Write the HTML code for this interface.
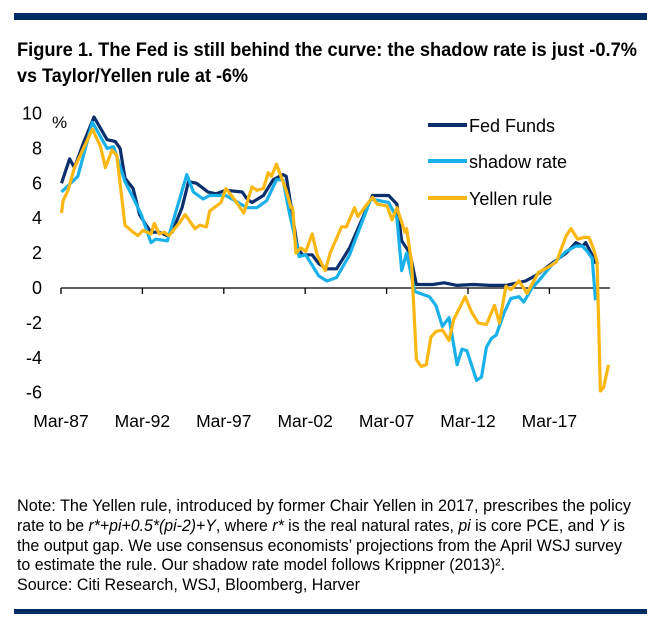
<!DOCTYPE html>
<html><head><meta charset="utf-8"><style>
html,body{margin:0;padding:0;background:#fff;}
svg{display:block;font-family:"Liberation Sans",Arial,sans-serif;}
</style></head><body>
<svg id="chart" width="647" height="621" viewBox="0 0 647 621">
<rect x="14" y="13" width="633" height="7" fill="#002b63"/>
<text x="17" y="56" font-size="19" font-weight="bold" textLength="620" lengthAdjust="spacingAndGlyphs">Figure 1. The Fed is still behind the curve: the shadow rate is just -0.7%</text>
<text x="17" y="82" font-size="19" font-weight="bold" textLength="231" lengthAdjust="spacingAndGlyphs">vs Taylor/Yellen rule at -6%</text>
<g id="axes"></g>
<g id="series"></g>
<g>
<line x1="428" y1="125" x2="467" y2="125" stroke="#0b2f6b" stroke-width="4"/>
<text x="469" y="132" font-size="18">Fed Funds</text>
<line x1="428" y1="161" x2="467" y2="161" stroke="#1ab1ea" stroke-width="4"/>
<text x="469" y="168" font-size="18">shadow rate</text>
<line x1="428" y1="198" x2="467" y2="198" stroke="#fbb712" stroke-width="4"/>
<text x="469" y="205" font-size="18">Yellen rule</text>
</g>
<g font-size="16.5">
<text x="17" y="511" textLength="614" lengthAdjust="spacingAndGlyphs">Note: The Yellen rule, introduced by former Chair Yellen in 2017, prescribes the policy</text>
<text x="17" y="531" textLength="608" lengthAdjust="spacingAndGlyphs">rate to be <tspan font-style="italic">r*+pi+0.5*(pi-2)+Y</tspan>, where <tspan font-style="italic">r*</tspan> is the real natural rates, <tspan font-style="italic">pi</tspan> is core PCE, and <tspan font-style="italic">Y</tspan> is</text>
<text x="17" y="551" textLength="605" lengthAdjust="spacingAndGlyphs">the output gap. We use consensus economists’ projections from the April WSJ survey</text>
<text x="17" y="570" textLength="488" lengthAdjust="spacingAndGlyphs">to estimate the rule. Our shadow rate model follows Krippner (2013)².</text>
<text x="17" y="590" textLength="343" lengthAdjust="spacingAndGlyphs">Source: Citi Research, WSJ, Bloomberg, Harver</text>
</g>
<rect x="14" y="609" width="633" height="5" fill="#002b63"/>
</svg>
<script>
const yTicks=[10,8,6,4,2,0,-2,-4,-6];
const xTickYears=[1987.17,1992.17,1997.17,2002.17,2007.17,2012.17,2017.17];
const xTickLabels=["Mar-87","Mar-92","Mar-97","Mar-02","Mar-07","Mar-12","Mar-17"];
const fedFunds=[[1987.2,6.0],[1987.7,7.4],[1988.0,6.9],[1988.5,8.2],[1989.2,9.8],[1990.0,8.5],[1990.5,8.4],[1990.8,8.0],[1991.1,6.3],[1991.6,5.7],[1992.0,4.2],[1992.4,3.6],[1992.7,3.2],[1993.2,3.2],[1993.7,3.0],[1994.0,3.2],[1994.6,4.6],[1995.0,6.1],[1995.5,6.0],[1996.2,5.5],[1996.7,5.4],[1997.3,5.6],[1998.3,5.5],[1998.6,5.1],[1998.9,4.9],[1999.6,5.3],[2000.2,6.2],[2000.8,6.5],[2001.0,6.4],[2001.3,4.7],[2001.7,2.3],[2002.0,1.9],[2002.6,1.9],[2003.0,1.4],[2003.5,1.1],[2004.1,1.1],[2004.9,2.3],[2006.3,5.3],[2007.3,5.3],[2007.8,4.8],[2008.1,2.7],[2008.6,2.0],[2009.0,0.2],[2010.0,0.2],[2010.7,0.3],[2011.5,0.15],[2012.5,0.2],[2013.5,0.15],[2014.5,0.15],[2015.7,0.4],[2016.3,0.7],[2017.3,1.4],[2018.2,2.0],[2018.8,2.6],[2019.2,2.4],[2019.4,2.6],[2019.9,1.7],[2020.0,1.4]];
const shadowRate=[[1987.2,5.5],[1988.2,6.4],[1989.1,9.5],[1990.0,8.0],[1990.4,8.1],[1991.1,6.1],[1991.7,5.0],[1992.1,4.2],[1992.7,2.6],[1993.0,2.8],[1993.7,2.7],[1994.9,6.5],[1995.3,5.5],[1995.9,5.1],[1996.3,5.3],[1997.3,5.3],[1998.6,4.6],[1999.2,4.6],[1999.8,5.0],[2000.4,6.2],[2000.8,6.2],[2001.2,4.3],[2001.8,1.8],[2002.2,1.9],[2003.0,0.7],[2003.5,0.4],[2004.1,0.6],[2004.9,1.9],[2006.2,5.1],[2007.3,4.9],[2007.8,4.0],[2008.1,1.0],[2008.4,2.0],[2008.9,-0.2],[2009.2,-0.3],[2009.8,-0.5],[2010.2,-1.0],[2010.6,-2.2],[2011.0,-1.7],[2011.5,-4.4],[2011.8,-3.5],[2012.1,-3.6],[2012.7,-5.3],[2013.0,-5.1],[2013.3,-3.4],[2013.6,-2.9],[2013.9,-2.7],[2014.4,-1.4],[2014.8,-0.6],[2015.3,-0.5],[2015.6,-0.8],[2016.1,0],[2016.5,0.4],[2017.3,1.3],[2018.2,2.1],[2018.8,2.4],[2019.2,2.4],[2019.5,2.1],[2019.8,1.7],[2020.0,-0.7]];
const yellenRule=[[1987.2,4.3],[1987.3,5.0],[1987.6,5.6],[1988.0,6.9],[1988.5,7.9],[1989.1,9.1],[1989.6,8.1],[1989.9,6.9],[1990.3,7.9],[1990.6,7.6],[1991.1,3.6],[1991.6,3.2],[1991.9,3.0],[1992.2,3.3],[1992.7,3.1],[1992.9,3.7],[1993.2,3.1],[1993.5,3.2],[1993.8,3.0],[1994.5,3.8],[1994.8,4.2],[1995.4,3.4],[1995.7,3.6],[1996.1,3.5],[1996.3,4.4],[1997.0,4.9],[1997.3,5.7],[1997.8,5.1],[1998.4,4.3],[1998.9,5.8],[1999.2,5.6],[1999.6,5.7],[1999.9,6.6],[2000.1,6.4],[2000.4,7.1],[2001.0,5.6],[2001.3,4.6],[2001.4,4.6],[2001.6,2.0],[2001.9,2.3],[2002.2,2.1],[2002.6,3.1],[2002.9,1.9],[2003.4,1.0],[2003.7,2.0],[2004.4,3.5],[2004.7,3.5],[2005.2,4.6],[2005.4,4.1],[2006.3,5.2],[2006.6,4.8],[2007.2,4.7],[2007.5,3.9],[2007.8,4.6],[2008.3,3.2],[2008.4,3.4],[2008.7,1.5],[2009.0,-4.1],[2009.3,-4.5],[2009.6,-4.4],[2009.9,-2.8],[2010.2,-2.5],[2010.6,-2.4],[2011.0,-3.0],[2011.3,-1.8],[2012.0,-0.5],[2012.4,-1.4],[2012.8,-2.0],[2013.3,-2.1],[2013.8,-1.0],[2014.1,-2.0],[2014.5,0.1],[2014.8,-0.1],[2015.3,0.4],[2015.8,-0.3],[2016.5,0.9],[2017.1,1.2],[2017.6,1.5],[2018.2,3.0],[2018.5,3.4],[2018.9,2.8],[2019.3,2.9],[2019.6,2.9],[2019.9,2.2],[2020.1,1.5],[2020.3,-5.9],[2020.5,-5.7],[2020.8,-4.4]];

const NS="http://www.w3.org/2000/svg";
function xs(yr){return 61+(yr-1987.17)*16.28;}
function ys(v){return 288-v*17.45;}
function mk(tag,attrs,parent){const e=document.createElementNS(NS,tag);for(const k in attrs)e.setAttribute(k,attrs[k]);parent.appendChild(e);return e;}
const axes=document.getElementById('axes');
const zl=mk('line',{x1:61,y1:ys(0),x2:610,y2:ys(0),stroke:'#000','stroke-width':1.3},axes);


yTicks.forEach(v=>{
  const t=mk('text',{x:42,y:ys(v)+6,'font-size':18,'text-anchor':'end'},axes);
  t.textContent=String(v);
  
  
});
const pct=mk('text',{x:52,y:128,'font-size':17},axes);
pct.textContent='%';


xTickYears.forEach((yr,i)=>{
  const tk=mk('line',{x1:xs(yr),y1:ys(0),x2:xs(yr),y2:ys(0)+6,stroke:'#000','stroke-width':1.3},axes);
  
  
  const t=mk('text',{x:xs(yr),y:427,'font-size':17.5,'text-anchor':'middle'},axes);
  t.textContent=xTickLabels[i];
  
  
});
const ser=document.getElementById('series');
function draw(data,color,name){
  const d=data.map((p,i)=>(i?'L':'M')+xs(p[0]).toFixed(1)+' '+ys(p[1]).toFixed(1)).join(' ');
  const p=mk('path',{d:d,fill:'none',stroke:color,'stroke-width':3.2,'stroke-linejoin':'round'},ser);
  
  
}
draw(fedFunds,'#0b2f6b','fed-funds-line');
draw(shadowRate,'#1ab1ea','shadow-rate-line');
draw(yellenRule,'#fbb712','yellen-rule-line');
</script>
</body></html>
